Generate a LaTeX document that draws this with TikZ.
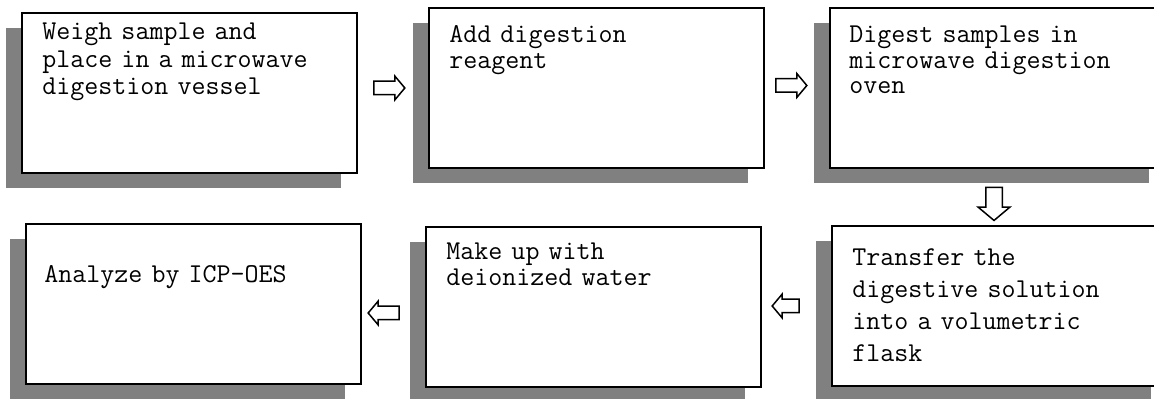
\documentclass[tikz,border=0pt]{standalone}
\usepackage{fontspec}
\usetikzlibrary{shapes.arrows,shadows}
\definecolor{shadowgray}{HTML}{808080}
\tikzset{
  stepbox/.style={draw, line width=1pt, fill=white, minimum width=167.5pt, minimum height=80pt, inner sep=0pt,
    drop shadow={shadow xshift=-8pt, shadow yshift=-7.5pt, fill=shadowgray, opacity=1}},
  steptext/.style={anchor=base west, inner sep=0pt, text width=165pt, align=left, font=\ttfamily\fontsize{13.6}{13.75}\selectfont},
  blockarrow/.style={single arrow, draw, fill=white, line width=0.75pt, inner xsep=0pt, inner ysep=3pt,
    minimum height=15.5pt, single arrow head extend=2.5pt, single arrow tip angle=100}
}
\begin{document}
\begin{tikzpicture}[x=0.5pt,y=-0.5pt]
  \useasboundingbox (0,0) rectangle (1154,399);
  % top row
  \node[stepbox] (b1) at (189.5,93) {};
  \node[stepbox] (b2) at (596,88.5) {};
  \node[stepbox] (b3) at (997.5,88.5) {};
  % bottom row
  \node[stepbox] (b4) at (193,304.5) {};
  \node[stepbox] (b5) at (593,307) {};
  \node[stepbox] (b6) at (999.5,306.5) {};
  % texts
  \node[steptext] (t1) at ([shift={(21,28)}]b1.north west) {Weigh sample and\\place in a microwave\\digestion vessel};
  \node[steptext, font=\ttfamily\fontsize{13.6}{12.75}\selectfont] (t2) at ([shift={(21.5,35.5)}]b2.north west) {Add digestion\\reagent};
  \node[steptext, font=\ttfamily\fontsize{13.6}{12.75}\selectfont] (t3) at ([shift={(20,35.5)}]b3.north west) {Digest samples in\\microwave digestion\\oven};
  \node[steptext] (t4) at ([shift={(19.5,59.5)}]b4.north west) {Analyze by ICP-OES};
  \node[steptext, font=\ttfamily\fontsize{13.6}{12.75}\selectfont] (t5) at ([shift={(21.5,34)}]b5.north west) {Make up with\\deionized water};
  \node[steptext, font=\ttfamily\fontsize{13.6}{16}\selectfont] (t6) at ([shift={(21,40.5)}]b6.north west) {Transfer the\\digestive solution\\into a volumetric\\flask};
  % arrows between steps
  \node[blockarrow] (a1) at (386.5,88) {};
  \node[blockarrow] (a2) at (788.5,85.5) {};
  \node[blockarrow, shape border rotate=270, inner xsep=3.75pt, inner ysep=0pt, single arrow head extend=3.75pt, minimum height=16.5pt] (a3) at (994,200.5) {};
  \node[blockarrow, shape border rotate=180, minimum height=13.5pt] (a4) at (788.5,306) {};
  \node[blockarrow, shape border rotate=180] (a5) at (386.5,313) {};
\end{tikzpicture}
\end{document}
